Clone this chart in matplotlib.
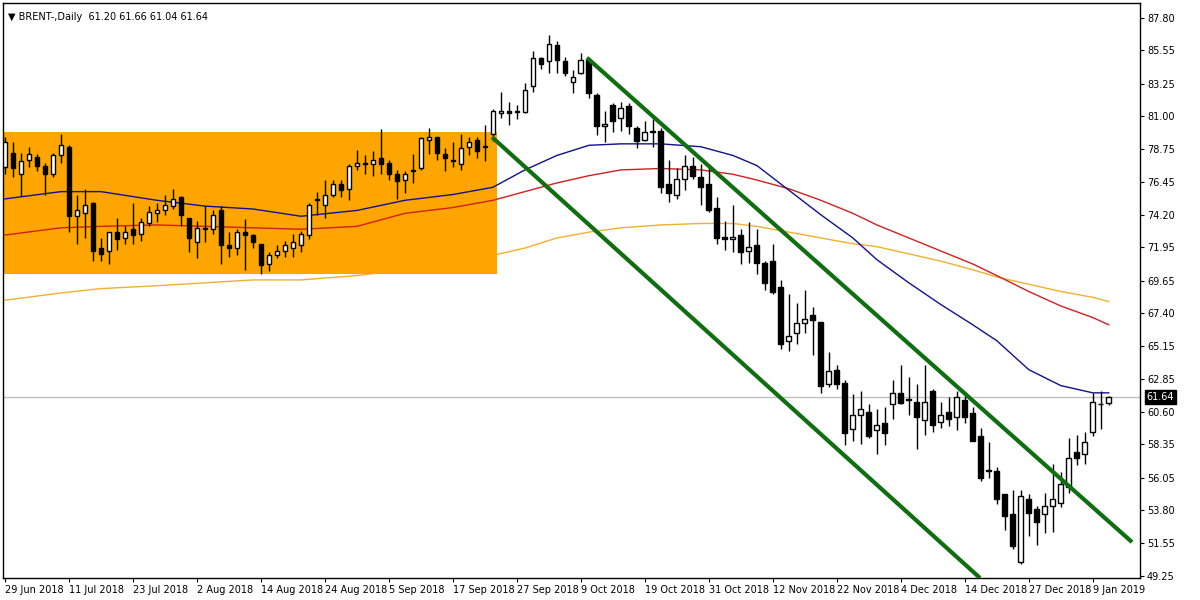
import matplotlib
matplotlib.use("Agg")
import matplotlib.pyplot as plt
import numpy as np

# OHLC, daily bars
opens = [77.5, 78.5, 77.0, 78.0, 78.2, 77.6, 77.0, 78.3, 78.9, 74.1,
         74.3, 75.0, 71.9, 71.7, 73.0, 72.6, 73.2, 72.9, 73.6, 74.3,
         74.5, 74.8, 75.4, 74.0, 72.3, 73.3, 73.2, 74.5, 72.1, 71.9,
         73.0, 72.8, 72.2, 70.8, 71.4, 71.7, 71.9, 72.1, 72.8, 75.3,
         74.9, 75.6, 76.3, 76.0, 77.6, 77.8, 77.7, 78.1, 77.8, 77.0,
         76.6, 77.3, 77.4, 79.4, 79.6, 78.4, 78.0, 77.7, 78.9, 79.4,
         78.9, 79.8, 81.2, 81.4, 81.3, 81.3, 83.1, 85.0, 84.8, 85.9,
         84.8, 83.4, 84.0, 84.9, 82.5, 80.3, 81.8, 80.9, 81.7, 80.2,
         79.4, 79.9, 80.0, 76.3, 75.6, 76.7, 77.6, 76.8, 76.3, 74.7,
         72.7, 72.5, 72.8, 71.7, 72.1, 70.9, 71.0, 69.2, 65.5, 66.0,
         66.7, 67.3, 66.8, 62.5, 63.5, 62.6, 59.4, 60.4, 60.6, 59.3,
         59.8, 61.1, 61.9, 61.4, 61.3, 60.0, 62.0, 59.9, 60.6, 60.2,
         61.4, 60.5, 58.9, 56.5, 56.5, 54.9, 53.5, 50.2, 54.6, 53.9,
         53.5, 54.1, 54.3, 55.4, 57.8, 57.7, 59.2, 61.1, 61.20]
highs = [79.6, 79.2, 78.5, 78.9, 78.4, 77.8, 78.5, 79.8, 79.0, 75.6,
         76.0, 75.1, 72.6, 73.0, 74.0, 73.4, 75.0, 74.0, 74.8, 75.0,
         75.6, 76.0, 75.5, 74.0, 73.8, 74.8, 74.5, 74.8, 73.0, 73.2,
         73.9, 72.9, 72.2, 71.6, 72.1, 72.4, 72.9, 73.1, 75.0, 75.8,
         76.6, 76.6, 76.6, 77.7, 78.7, 78.3, 78.6, 80.1, 78.0, 77.3,
         77.2, 78.4, 79.6, 80.2, 79.6, 78.8, 79.2, 79.8, 79.6, 79.6,
         80.4, 81.5, 82.7, 82.0, 81.8, 83.3, 85.5, 85.1, 86.6, 86.2,
         85.1, 84.2, 85.4, 85.0, 82.6, 81.4, 81.9, 82.0, 81.9, 80.3,
         80.7, 80.8, 80.2, 78.0, 77.4, 78.3, 78.2, 77.7, 77.6, 75.4,
         73.8, 74.9, 73.2, 73.7, 73.2, 71.0, 72.2, 69.7, 68.7, 68.1,
         69.0, 67.8, 66.8, 64.7, 63.8, 62.8, 61.8, 62.0, 61.1, 60.8,
         60.9, 62.8, 63.8, 63.0, 62.5, 63.8, 62.2, 61.3, 61.6, 62.0,
         61.7, 60.9, 59.5, 58.5, 56.8, 54.9, 55.2, 55.2, 54.9, 54.1,
         55.0, 57.0, 56.4, 58.8, 59.0, 59.2, 61.9, 62.0, 61.66]
lows = [77.0, 76.8, 75.5, 77.5, 77.2, 75.6, 76.8, 77.8, 73.0, 72.2,
        72.6, 71.0, 71.0, 70.8, 71.8, 72.2, 72.2, 72.4, 73.4, 73.7,
        74.2, 74.6, 73.4, 71.6, 71.2, 72.3, 72.9, 70.8, 71.3, 71.4,
        70.4, 71.9, 70.1, 70.3, 71.2, 71.3, 71.3, 71.6, 72.5, 74.2,
        74.0, 75.4, 75.4, 75.2, 77.3, 77.0, 76.9, 77.0, 76.6, 75.3,
        75.7, 76.4, 77.3, 78.4, 78.0, 77.2, 77.5, 77.3, 78.3, 78.1,
        77.9, 79.3, 80.9, 80.4, 80.8, 81.2, 82.7, 84.3, 84.0, 84.0,
        83.8, 82.6, 83.9, 82.3, 79.7, 79.2, 79.9, 80.0, 79.8, 78.8,
        79.3, 78.9, 75.7, 75.1, 75.3, 75.9, 76.7, 74.9, 74.4, 72.2,
        71.8, 71.6, 70.8, 70.9, 70.1, 69.0, 68.7, 64.9, 64.8, 65.3,
        66.0, 64.5, 61.9, 62.3, 62.2, 58.3, 58.6, 58.4, 58.8, 57.7,
        58.3, 60.1, 61.1, 60.4, 58.0, 59.0, 59.2, 59.5, 59.6, 59.3,
        59.8, 58.6, 55.8, 56.0, 54.2, 52.4, 51.1, 50.1, 52.0, 51.4,
        52.2, 52.3, 54.0, 55.0, 56.9, 57.0, 58.9, 59.4, 61.04]
closes = [79.2, 77.4, 77.9, 78.4, 77.6, 77.0, 78.3, 79.0, 74.1, 74.5,
          74.9, 71.7, 71.5, 73.0, 72.5, 73.0, 72.8, 73.7, 74.4, 74.5,
          74.9, 75.3, 74.2, 72.6, 73.3, 73.2, 74.2, 72.1, 71.9, 73.0,
          72.8, 72.3, 70.7, 71.4, 71.7, 72.1, 72.3, 72.9, 74.9, 75.2,
          75.6, 76.3, 75.9, 77.6, 77.8, 77.7, 78.0, 77.7, 77.0, 76.5,
          77.0, 77.2, 79.5, 79.6, 78.5, 78.1, 77.9, 78.8, 79.2, 78.6,
          78.9, 81.4, 81.4, 81.2, 81.3, 82.8, 85.0, 84.6, 86.0, 84.9,
          84.0, 83.7, 84.9, 82.6, 80.3, 80.5, 80.7, 81.6, 80.3, 79.3,
          79.9, 80.0, 76.1, 75.7, 76.7, 77.6, 76.9, 76.1, 74.5, 72.6,
          72.5, 72.7, 71.6, 72.0, 70.9, 69.5, 68.9, 65.3, 65.8, 66.7,
          67.0, 66.9, 62.4, 63.4, 62.5, 59.1, 60.4, 60.8, 58.9, 59.7,
          59.1, 61.9, 61.2, 61.5, 60.2, 61.3, 59.7, 60.4, 60.1, 61.6,
          60.2, 58.6, 56.0, 56.5, 54.6, 53.4, 51.3, 54.8, 53.6, 53.0,
          54.1, 54.6, 55.6, 57.4, 57.4, 58.5, 61.3, 61.1, 61.64]

date_labels = ["29 Jun 2018", "11 Jul 2018", "23 Jul 2018", "2 Aug 2018", "14 Aug 2018",
               "24 Aug 2018", "5 Sep 2018", "17 Sep 2018", "27 Sep 2018", "9 Oct 2018",
               "19 Oct 2018", "31 Oct 2018", "12 Nov 2018", "22 Nov 2018", "4 Dec 2018",
               "14 Dec 2018", "27 Dec 2018", "9 Jan 2019"]
price_ticks = [87.80, 85.55, 83.25, 81.00, 78.75, 76.45, 74.20, 71.95, 69.65,
               67.40, 65.15, 62.85, 60.60, 58.35, 56.05, 53.80, 51.55, 49.25]

# moving averages, read at bar positions
ma_bars = [0, 7, 12, 19, 25, 31, 37, 44, 50, 56, 61, 65, 69, 73, 77, 82, 87,
           91, 94, 98, 102, 106, 109, 113, 117, 121, 124, 128, 132, 136, 138]
ma_fast = [75.3, 75.8, 75.8, 75.2, 74.8, 74.6, 74.1, 74.5, 75.2, 75.6, 76.1, 77.3,
           78.3, 79.0, 79.1, 79.1, 78.9, 78.3, 77.6, 75.9, 74.2, 72.6, 71.1, 69.5,
           68.0, 66.6, 65.5, 63.5, 62.4, 61.9, 61.9]
ma_mid = [72.8, 73.3, 73.4, 73.5, 73.4, 73.3, 73.2, 73.4, 74.3, 74.7, 75.2, 75.8,
          76.4, 76.9, 77.3, 77.4, 77.3, 77.0, 76.6, 76.0, 75.2, 74.3, 73.5, 72.6,
          71.7, 70.8, 70.0, 68.9, 67.9, 67.1, 66.6]
ma_slow = [68.3, 68.8, 69.1, 69.3, 69.5, 69.7, 69.7, 70.0, 70.4, 71.0, 71.4, 71.9,
           72.6, 73.0, 73.3, 73.5, 73.6, 73.6, 73.4, 73.0, 72.6, 72.2, 72.0, 71.5,
           71.0, 70.4, 69.9, 69.4, 68.9, 68.5, 68.2]

# drawn objects: range box and descending channel (bar, price)
box_bars = (-0.25, 61.5)
box_prices = (70.14, 79.90)
chan_upper = [(72.75, 85.05), (140.9, 51.59)]
chan_lower = [(60.9, 79.56), (121.9, 49.11)]
last_price = 61.64

fig = plt.figure(figsize=(12, 6), dpi=100)
ax = fig.add_axes([3 / 1200, 22 / 600, 1137 / 1200, 575 / 600])
idx = np.arange(len(closes))

ax.fill_between(box_bars, box_prices[0], box_prices[1], color="#FFA500", lw=0, zorder=1)
ax.plot(ma_bars, ma_slow, color="#F0B030", lw=1, zorder=0.5)
ax.plot(ma_bars, ma_mid, color="#D02020", lw=1, zorder=2)
ax.plot(ma_bars, ma_fast, color="#101090", lw=1, zorder=2)
ax.axhline(last_price, color="#C0C0C0", lw=1, zorder=1.5)

o = np.array(opens); c = np.array(closes)
ax.vlines(idx, lows, highs, color="black", lw=1, zorder=3)
bottoms = np.minimum(o, c)
heights = np.maximum(np.abs(c - o), 0.06)
face = ["white" if cc >= oo else "black" for oo, cc in zip(o, c)]
ax.bar(idx, heights, bottom=bottoms, width=0.6, color=face, edgecolor="black", lw=1, zorder=4)

for pts in (chan_upper, chan_lower):
    ax.plot([p[0] for p in pts], [p[1] for p in pts], color="#0F6E0F", lw=3, zorder=5,
            solid_capstyle="butt")

ax.set_xlim(-0.25, 141.9)
ax.set_ylim(49.11, 88.83)
ax.yaxis.tick_right()
ax.set_yticks(price_ticks)
ax.set_yticklabels([f"{p:.2f}" for p in price_ticks], fontsize=7)
ax.set_xticks(np.arange(len(date_labels)) * 8)
ax.set_xticklabels(date_labels, fontsize=7, ha="left")
ax.tick_params(length=3, width=0.8, pad=2)
for s in ax.spines.values():
    s.set_linewidth(1)

ax.text(1.006, (last_price - 49.11) / (88.83 - 49.11), f"{last_price:.2f}", transform=ax.transAxes,
        fontsize=7, color="white", va="center", ha="left",
        bbox=dict(boxstyle="square,pad=0.2", fc="black", ec="black"))
ax.text(0.004, 0.985, "\u25bc BRENT-,Daily  61.20 61.66 61.04 61.64", transform=ax.transAxes,
        fontsize=7, va="top", ha="left")

fig.savefig("out.png", dpi=100)
